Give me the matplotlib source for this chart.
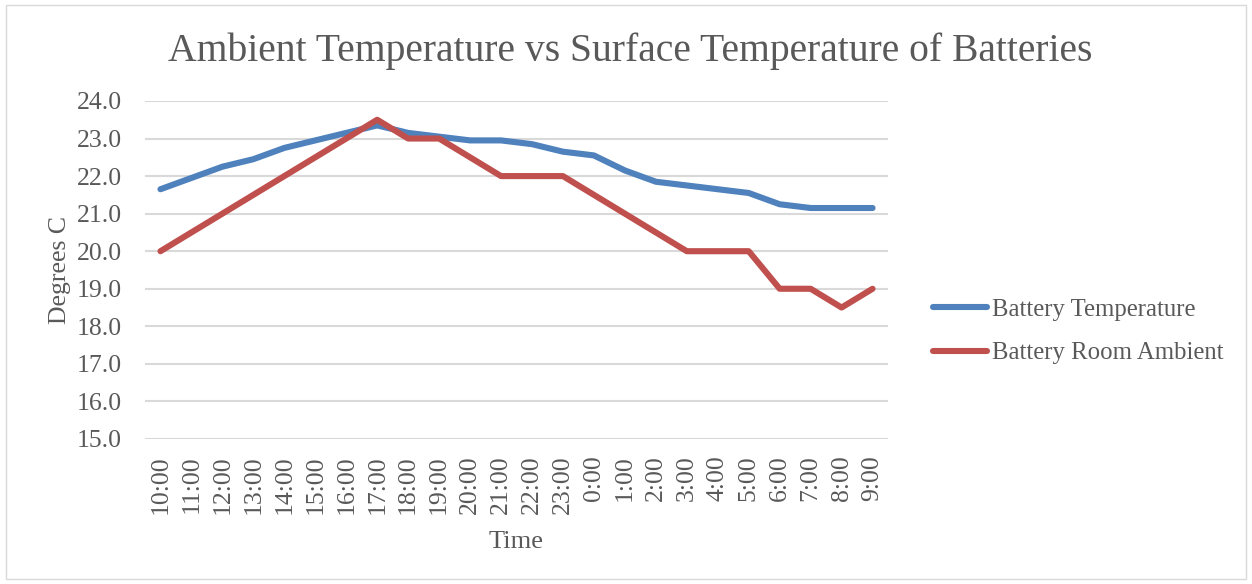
import matplotlib.pyplot as plt
from matplotlib.patches import Rectangle

# Hourly readings, 10:00 through 9:00 next morning
hours = ['10:00', '11:00', '12:00', '13:00', '14:00', '15:00', '16:00', '17:00',
         '18:00', '19:00', '20:00', '21:00', '22:00', '23:00', '0:00', '1:00',
         '2:00', '3:00', '4:00', '5:00', '6:00', '7:00', '8:00', '9:00']
battery_temp = [21.65, 21.95, 22.25, 22.45, 22.75, 22.95, 23.15, 23.35,
                23.15, 23.05, 22.95, 22.95, 22.85, 22.65, 22.55, 22.15,
                21.85, 21.75, 21.65, 21.55, 21.25, 21.15, 21.15, 21.15]
room_ambient = [20.0, 20.5, 21.0, 21.5, 22.0, 22.5, 23.0, 23.5,
                23.0, 23.0, 22.5, 22.0, 22.0, 22.0, 21.5, 21.0,
                20.5, 20.0, 20.0, 20.0, 19.0, 19.0, 18.5, 19.0]

plt.rcParams['font.family'] = ['Liberation Serif', 'DejaVu Serif']
txt = '#595959'

fig = plt.figure(figsize=(12.52, 5.84), dpi=100)
ax = fig.add_axes([0.1158, 0.2483, 0.5935, 0.5788])

x = range(len(hours))
ax.plot(x, battery_temp, color='#4f81bd', lw=4.4, solid_capstyle='round',
        solid_joinstyle='round', label='Battery Temperature', zorder=3)
ax.plot(x, room_ambient, color='#c0504d', lw=4.4, solid_capstyle='round',
        solid_joinstyle='round', label='Battery Room Ambient', zorder=3)

ax.set_xlim(-0.5, len(hours) - 0.5)
ax.set_ylim(15, 24)
ax.set_yticks([15 + i for i in range(10)])
ax.set_yticklabels([f'{15 + i:.1f}' for i in range(10)])
ax.set_xticks(list(x))
ax.set_xticklabels(hours, rotation=90)
ax.grid(axis='y', color='#d9d9d9', lw=1.5)
ax.set_axisbelow(True)
for s in ax.spines.values():
    s.set_visible(False)
ax.tick_params(axis='both', length=0, labelsize=18.5, colors=txt)
ax.tick_params(axis='y', pad=16.5)
ax.tick_params(axis='x', pad=12)

fig.text(0.503, 0.913, 'Ambient Temperature vs Surface Temperature of Batteries',
         fontsize=28.5, color=txt, ha='center', va='center')
ax.set_ylabel('Degrees C', fontsize=18.5, color=txt)
ax.yaxis.set_label_coords(-0.100, 0.5)
ax.set_xlabel('Time', fontsize=19, color=txt, va='top')
ax.xaxis.set_label_coords(0.5, -0.272)

ax.legend(loc='center left', bbox_to_anchor=(1.03, 0.318), frameon=False,
          fontsize=17.8, labelcolor=txt, handlelength=2.2, handletextpad=0.2,
          labelspacing=0.85)

# light chart border
fig.patches.append(Rectangle((0.005, 0.008), 0.99, 0.984, transform=fig.transFigure,
                             fill=False, edgecolor='#d9d9d9', lw=1))

fig.savefig('out.png', dpi=100)
